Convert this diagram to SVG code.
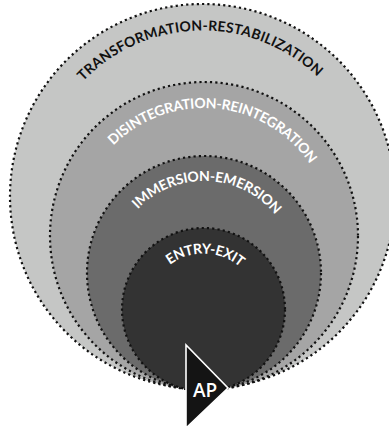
<svg xmlns="http://www.w3.org/2000/svg" width="389" height="431" viewBox="0 0 389 431">
<defs>
<style>
.ring{stroke:#111;stroke-width:2.2;stroke-dasharray:2.2 3.1}
.lbl{font-family:Lato,"Open Sans",sans-serif;font-weight:700;font-size:14px}
.dark{fill:#111}
.light{fill:#fff}
</style>
<path id="p1" d="M 83.1 81.2 A 166 166 0 0 1 317.8 77.1"/>
<path id="p2" d="M 113.5 145.5 A 128 128 0 0 1 310.1 164.4"/>
<path id="p3" d="M 137.8 209.1 A 92 92 0 0 1 275.5 215.1"/>
<path id="p4" d="M 169.8 264.8 A 56 56 0 0 1 240.2 267.2"/>
</defs>
<rect width="389" height="431" fill="#fff"/>
<g id="transformation">
<circle class="ring" cx="202.5" cy="196.5" r="192.5" fill="#c5c6c5"/>
<text class="lbl dark"><textPath href="#p1" textLength="260" lengthAdjust="spacing">TRANSFORMATION-RESTABILIZATION</textPath></text>
</g>
<g id="disintegration">
<circle class="ring" cx="204" cy="236" r="154" fill="#a5a5a5"/>
<text class="lbl light"><textPath href="#p2" textLength="225" lengthAdjust="spacing">DISINTEGRATION-REINTEGRATION</textPath></text>
</g>
<g id="immersion">
<circle class="ring" cx="204" cy="273" r="117" fill="#6b6b6b"/>
<text class="lbl light"><textPath href="#p3" textLength="155" lengthAdjust="spacing">IMMERSION-EMERSION</textPath></text>
</g>
<g id="entry">
<circle class="ring" cx="203.5" cy="309.5" r="81.5" fill="#333"/>
<text class="lbl light"><textPath href="#p4" textLength="76" lengthAdjust="spacing">ENTRY-EXIT</textPath></text>
</g>
<g id="ap">
<polygon points="186,345 186,428 228,388" fill="#141414" stroke="#fff" stroke-width="1.6" stroke-linejoin="miter"/>
<text x="193" y="397" font-family="Open Sans, Noto Sans, sans-serif" font-weight="600" font-size="19" fill="#fff">AP</text>
</g>
</svg>
